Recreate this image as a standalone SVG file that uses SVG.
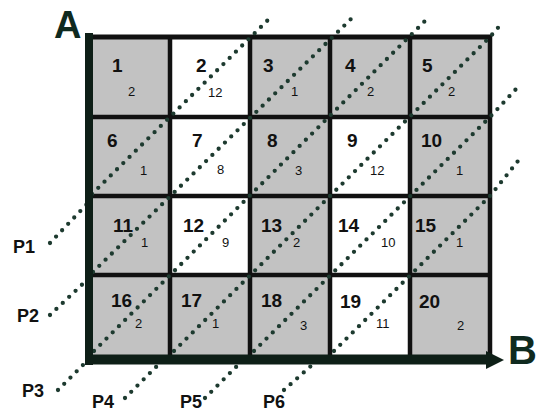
<svg xmlns="http://www.w3.org/2000/svg" width="539" height="412" viewBox="0 0 539 412">
<style>
.g{fill:#c2c2c2}
.w{fill:#ffffff}
.big{font-family:"Liberation Sans",Arial,sans-serif;font-weight:bold;font-size:19px;fill:#111}
.sm{font-family:"Liberation Sans",Arial,sans-serif;font-size:13px;fill:#111}
.lbl{font-family:"Liberation Sans",Arial,sans-serif;font-weight:bold;font-size:18px;fill:#111}
.ax{font-family:"Liberation Sans",Arial,sans-serif;font-weight:bold;fill:#0f2a1f}
.grid{stroke:#111;stroke-width:4.5;fill:none}
.dot{fill:none;stroke:#1d3a2f;stroke-width:4.3;stroke-linecap:round;stroke-dasharray:0 8.8}
</style>
<rect width="539" height="412" fill="#ffffff"/>
<g id="cells">
<g id="c1"><rect class="g" x="90" y="37" width="80" height="80"/><text class="big" x="112" y="72">1</text><text class="sm" x="128" y="96">2</text></g>
<g id="c2"><rect class="w" x="170" y="37" width="80" height="80"/><text class="big" x="196" y="72">2</text><text class="sm" x="208" y="97">12</text></g>
<g id="c3"><rect class="g" x="250" y="37" width="80" height="80"/><text class="big" x="263" y="72">3</text><text class="sm" x="291" y="96">1</text></g>
<g id="c4"><rect class="g" x="330" y="37" width="80" height="80"/><text class="big" x="345" y="72">4</text><text class="sm" x="367" y="96">2</text></g>
<g id="c5"><rect class="g" x="410" y="37" width="80" height="80"/><text class="big" x="422" y="72">5</text><text class="sm" x="448" y="96">2</text></g>
<g id="c6"><rect class="g" x="90" y="117" width="80" height="79"/><text class="big" x="107" y="147">6</text><text class="sm" x="140" y="175">1</text></g>
<g id="c7"><rect class="w" x="170" y="117" width="80" height="79"/><text class="big" x="192" y="147">7</text><text class="sm" x="217" y="174">8</text></g>
<g id="c8"><rect class="g" x="250" y="117" width="80" height="79"/><text class="big" x="267" y="147">8</text><text class="sm" x="295" y="175">3</text></g>
<g id="c9"><rect class="w" x="330" y="117" width="80" height="79"/><text class="big" x="347" y="147">9</text><text class="sm" x="370" y="175">12</text></g>
<g id="c10"><rect class="g" x="410" y="117" width="80" height="79"/><text class="big" x="421" y="147">10</text><text class="sm" x="456" y="175">1</text></g>
<g id="c11"><rect class="g" x="90" y="196" width="80" height="79"/><text class="big" x="113" y="232">11</text><text class="sm" x="141" y="247">1</text></g>
<g id="c12"><rect class="w" x="170" y="196" width="80" height="79"/><text class="big" x="183" y="232">12</text><text class="sm" x="222" y="247">9</text></g>
<g id="c13"><rect class="g" x="250" y="196" width="80" height="79"/><text class="big" x="261" y="232">13</text><text class="sm" x="293" y="247">2</text></g>
<g id="c14"><rect class="w" x="330" y="196" width="80" height="79"/><text class="big" x="338" y="232">14</text><text class="sm" x="381" y="247">10</text></g>
<g id="c15"><rect class="g" x="410" y="196" width="80" height="79"/><text class="big" x="415" y="232">15</text><text class="sm" x="456" y="247">1</text></g>
<g id="c16"><rect class="g" x="90" y="275" width="80" height="80"/><text class="big" x="111" y="307">16</text><text class="sm" x="135" y="328">2</text></g>
<g id="c17"><rect class="g" x="170" y="275" width="80" height="80"/><text class="big" x="181" y="307">17</text><text class="sm" x="212" y="328">1</text></g>
<g id="c18"><rect class="g" x="250" y="275" width="80" height="80"/><text class="big" x="261" y="307">18</text><text class="sm" x="300" y="330">3</text></g>
<g id="c19"><rect class="w" x="330" y="275" width="80" height="80"/><text class="big" x="340" y="308">19</text><text class="sm" x="376" y="328">11</text></g>
<g id="c20"><rect class="g" x="410" y="275" width="80" height="80"/><text class="big" x="419" y="308">20</text><text class="sm" x="457" y="330">2</text></g>
</g>
<g id="grid" class="grid">
<path d="M170 37V355M250 37V355M330 37V355M410 37V355M490 35V357"/>
<path d="M90 117H490M90 196H490M90 275H490"/>
<path d="M86 37H492" stroke-width="5"/>
</g>
<g id="connectors">
<path class="dot" d="M50 243L88 203M92 194L270 18"/>
<path class="dot" d="M50 315L88 279M93 272L352 18"/>
<path class="dot" d="M58 390L88 360M94 351L428 18"/>
<path class="dot" d="M125 398L158 365M174 351L490 37L503 22"/>
<path class="dot" d="M205 398L240 363M254 351L490 117L518 87"/>
<path class="dot" d="M284 390L320 358M334 351L490 196L518 161"/>
</g>
<g id="axes">
<path d="M89 33V365" stroke="#0e1f17" stroke-width="8" fill="none"/>
<path d="M85 359.5H489" stroke="#0e1f17" stroke-width="10" fill="none"/>
<polygon points="486,351 504,360 486,369" fill="#0e1f17"/>
<text class="ax" x="508" y="364" font-size="40">B</text>
<text class="ax" x="54" y="38" font-size="38">A</text>
</g>
<g id="labels">
<text class="lbl" x="13" y="253">P1</text>
<text class="lbl" x="17" y="322">P2</text>
<text class="lbl" x="22" y="397">P3</text>
<text class="lbl" x="92" y="408" font-size="17">P4</text>
<text class="lbl" x="180" y="408" font-size="17">P5</text>
<text class="lbl" x="263" y="408" font-size="17">P6</text>
</g>
</svg>
